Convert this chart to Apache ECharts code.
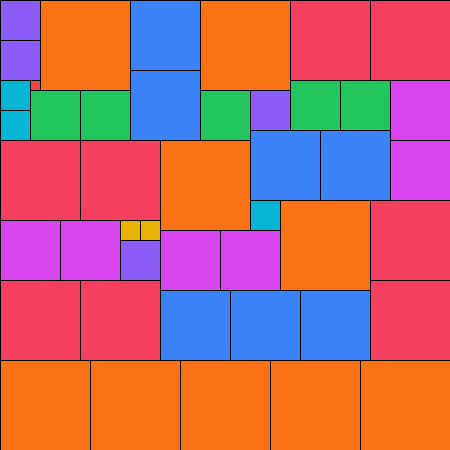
<!DOCTYPE html>
<html>
<head>
<meta charset="utf-8">
<script src="https://cdn.jsdelivr.net/npm/echarts@6/dist/echarts.min.js"></script>
<style>html,body{margin:0;padding:0;background:#fff;}#c{width:450px;height:450px;}</style>
</head>
<body>
<div id="c"></div>
<script>
// Square tiles on a 45x45 grid: left column, top row, side length
const tileX    = [0,0,0,0,3,4,3,8,13,13,20,20,25,29,37,29,34,39,0,8,16,25,32,39,25,28,37,0,6,12,14,12,16,22,0,8,16,23,30,37,0,9,18,27,36];
const tileY    = [0,4,8,11,8,0,9,9,0,7,0,9,9,0,0,8,8,8,14,14,14,13,13,14,20,20,20,22,22,22,22,24,23,23,28,28,29,29,29,28,36,36,36,36,36];
const tileSize = [4,4,3,3,1,9,5,5,7,7,9,5,4,8,8,5,5,6,8,8,9,7,7,6,3,9,8,6,6,2,2,4,6,6,8,8,7,7,7,8,9,9,9,9,9];
// colour per side length 1..9
const sizeColors = ['#EF4444','#EAB308','#06B6D4','#8B5CF6','#22C55E','#D946EF','#3B82F6','#F43F5E','#F97316'];

const data = tileX.map((x, i) => [x, tileY[i], tileSize[i]]);

const chart = echarts.init(document.getElementById('c'));
chart.setOption({
  animation: false,
  grid: {left: 0, right: 0, top: 0, bottom: 0},
  xAxis: {type: 'value', min: 0, max: 45, show: false},
  yAxis: {type: 'value', min: 0, max: 45, inverse: true, show: false},
  series: [{
    type: 'custom',
    data: data,
    renderItem: function (params, api) {
      const x = api.value(0), y = api.value(1), s = api.value(2);
      const p0 = api.coord([x, y]);
      const p1 = api.coord([x + s, y + s]);
      const x0 = Math.round(p0[0]), y0 = Math.round(p0[1]);
      const x1 = Math.round(p1[0]), y1 = Math.round(p1[1]);
      return {
        type: 'rect',
        shape: {x: x0 + 0.5, y: y0 + 0.5, width: x1 - x0, height: y1 - y0},
        style: {fill: sizeColors[s - 1], stroke: '#000', lineWidth: 1}
      };
    }
  }]
});
</script>
</body>
</html>
